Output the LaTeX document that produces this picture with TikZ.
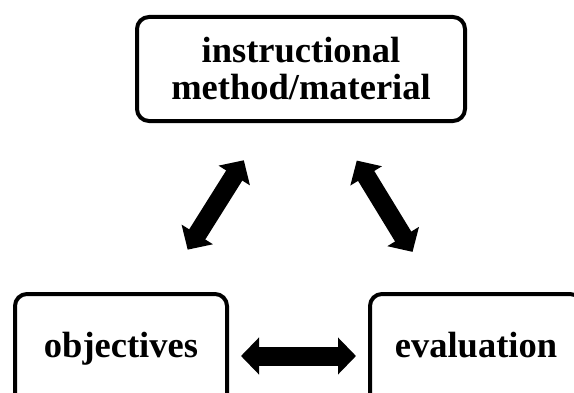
\documentclass[tikz,border=0pt]{standalone}
\usepackage{fontspec}
\setmainfont{Liberation Serif}
\usetikzlibrary{arrows.meta}

\begin{document}
\begin{tikzpicture}[x=1pt, y=1pt,
	box/.style={draw, line width=4pt, rounded corners=12pt, align=center,
		font=\bfseries\fontsize{36.5}{37}\selectfont},
	low/.style={box, anchor=north, minimum width=212pt, minimum height=124pt, text height=25pt, text depth=23pt},
	fat/.style={line width=19pt, {Triangle[width=36pt, length=18pt]}-{Triangle[width=36pt, length=18pt]}}]
	\useasboundingbox (0, 0) rectangle (574, 392);
	% Draw boxes
	\node[box, minimum width=328pt, minimum height=104pt] (method) at (301, 323)
		{instructional\\method/material};
	\node[low] (obj) at (121, 100) {objectives};
	\node[low] (eval) at (476, 100) {evaluation};
	% Draw arrows
	\draw[fat, shorten <=44pt, shorten >=50pt] (method) -- (obj);
	\draw[fat, shorten <=44pt, shorten >=47pt] (method) -- (eval);
	\draw[fat, shorten <=12pt, shorten >=12pt] (obj) -- (eval);
\end{tikzpicture}
\end{document}
